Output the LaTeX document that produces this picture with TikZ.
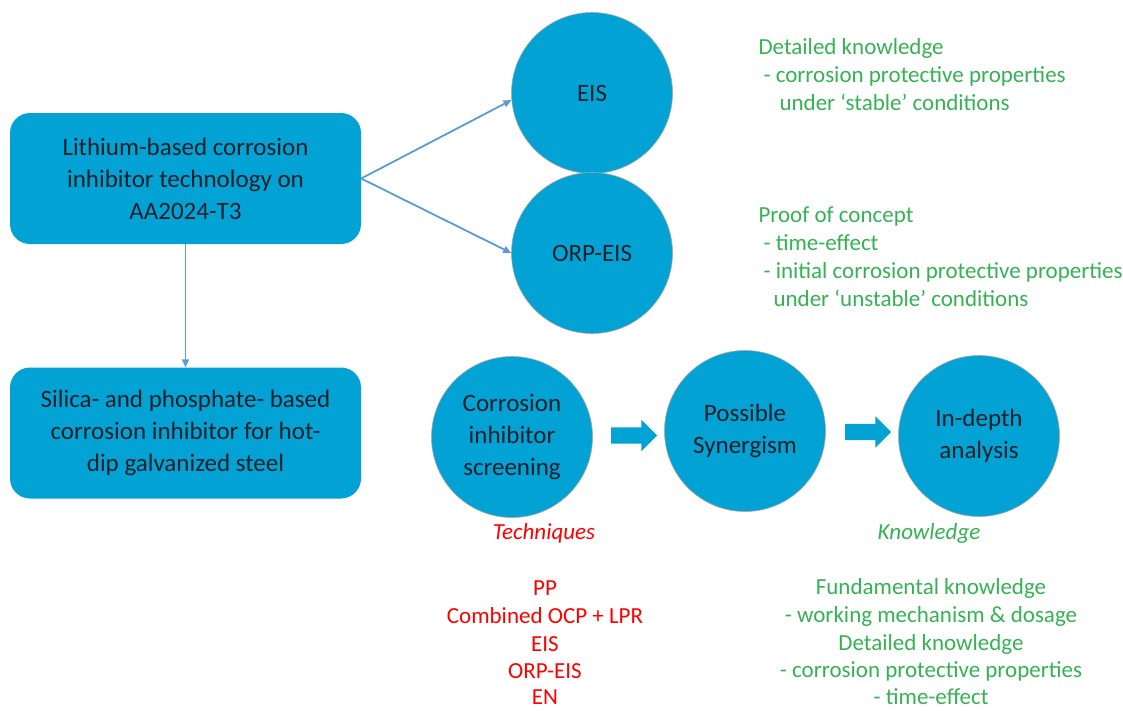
\documentclass[tikz,border=0pt]{standalone}
\usepackage{fontspec}
\setmainfont{Carlito}
\usepackage{xcolor}
\usepackage{tikz}
\usetikzlibrary{arrows.meta,positioning,shapes.arrows}

\definecolor{inhblue}{RGB}{2,163,212}
\definecolor{linkblue}{RGB}{91,155,213}
\definecolor{techred}{RGB}{255,0,0}
\definecolor{knowgreen}{RGB}{52,178,84}
\definecolor{darktxt}{RGB}{28,32,42}

\begin{document}
\begin{tikzpicture}[x=1pt, y=-1pt, every node/.style={font=\fontsize{25}{32}\selectfont, text=darktxt},
  topic/.style={fill=inhblue, rounded corners=20pt, minimum width=351pt, minimum height=131pt, align=center, inner sep=0pt},
  stage/.style={circle, fill=inhblue, draw=black!35, line width=0.6pt, minimum size=161pt, align=center, inner sep=0pt},
  link/.style={draw=linkblue, line width=1.8pt, -{Triangle[length=8pt,width=7pt]}},
  push/.style={single arrow, fill=inhblue, minimum height=46pt, inner xsep=0pt, inner ysep=8pt, single arrow head extend=7.5pt},
  note/.style={font=\fontsize{23}{28}\selectfont, anchor=base west, text=knowgreen},
  item/.style={font=\fontsize{23}{28}\selectfont, anchor=base, inner sep=0pt, text depth=0pt}]
\useasboundingbox (0,0) rectangle (1123,710);

% left column: the two inhibitor systems
\node[topic] (lith) at (185.5,178.5) {Lithium-based corrosion\\inhibitor technology on\\AA2024-T3};
\node[topic] (silica) at (185.5,433) {Silica- and phosphate- based\\corrosion inhibitor for hot-\\dip galvanized steel};
\draw[link] (lith.south) -- (silica.north);

% techniques used for the lithium system
\node[stage] (eis) at (592,93) {EIS};
\node[stage] (orp) at (592,253) {ORP-EIS};
\draw[link] (lith.east) -- (eis.185);
\draw[link] (lith.east) -- (orp.west);

% workflow for the silica/phosphate system
\node[stage] (screen) at (512,437) {Corrosion\\inhibitor\\screening};
\node[stage] (syn) at (745,431) {Possible\\Synergism};
\node[stage] (depth) at (979,436) {In-depth\\analysis};
\node[push] (push1) at (630,435.5) {};
\node[push] (push2) at (864,432) {};

% notes next to EIS and ORP-EIS
\foreach \x/\y/\t in {755/54/Detailed knowledge, 760/82/- corrosion protective properties, 776/110/under ‘stable’ conditions,
    755/222/Proof of concept, 760/250/- time-effect, 760/278/- initial corrosion protective properties, 770/306/under ‘unstable’ conditions}
  \node[note] (n\y) at (\x,\y) {\t};

\node[font=\fontsize{23}{24}\selectfont\itshape, text=techred] (techs) at (544,533) {Techniques};
\node[font=\fontsize{23}{24}\selectfont\itshape, text=knowgreen] (know) at (929,533) {Knowledge};

\foreach \y/\t in {596/PP, 624/Combined OCP + LPR, 652/EIS, 679/ORP-EIS, 705/EN}
  \node[item, text=techred] (t\y) at (545,\y-1) {\t};
\foreach \y/\t in {594/Fundamental knowledge, 622/- working mechanism \& dosage, 650/Detailed knowledge, 677/- corrosion protective properties, 704/- time-effect}
  \node[item, text=knowgreen] (k\y) at (931,\y) {\t};
\end{tikzpicture}
\end{document}
